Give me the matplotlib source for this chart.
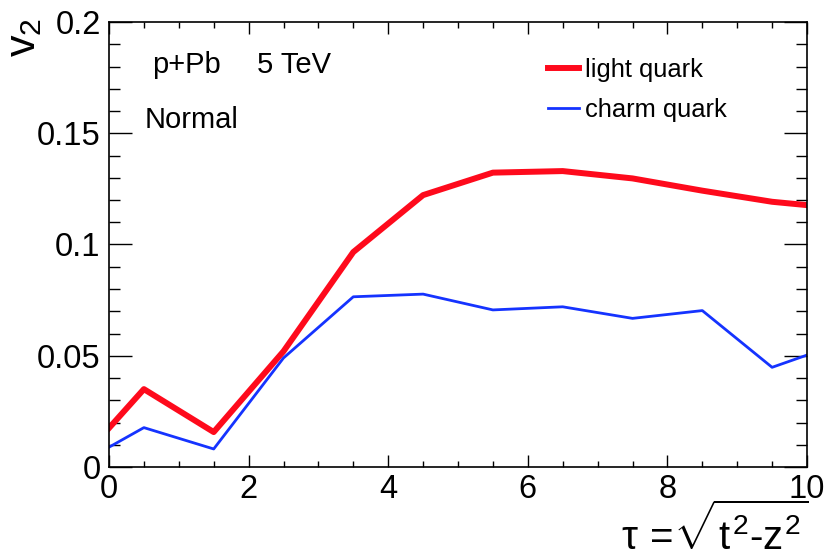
import matplotlib
matplotlib.use("Agg")
import matplotlib.pyplot as plt
from matplotlib.ticker import MultipleLocator, FuncFormatter

plt.rcParams["font.family"] = ["Liberation Sans", "DejaVu Sans"]
plt.rcParams["mathtext.fontset"] = "custom"
plt.rcParams["mathtext.rm"] = "Liberation Sans"
plt.rcParams["mathtext.it"] = "Liberation Sans"

# Données.
tau = [0, 0.5, 1.5, 2.5, 3.5, 4.5, 5.5, 6.5, 7.5, 8.5, 9.5, 10]
v2_light = [0.0175, 0.035, 0.0157, 0.052, 0.0966, 0.1222, 0.1323, 0.133, 0.1297, 0.1242, 0.1192, 0.1177]
v2_charm = [0.0089, 0.0177, 0.0081, 0.049, 0.0765, 0.0777, 0.0706, 0.072, 0.0668, 0.0703, 0.0448, 0.0503]

W, H = 827, 560
fig = plt.figure(figsize=(W / 100, H / 100), dpi=100)
ax = fig.add_axes([109 / W, 1 - 467 / H, (807 - 109) / W, (467 - 22) / H])

ax.plot(tau, v2_light, color="#fe0a1c", linewidth=4.3, label="light quark")
ax.plot(tau, v2_charm, color="#1533ff", linewidth=2.0, label="charm quark")

ax.set_xlim(0, 10)
ax.set_ylim(0, 0.2)

ax.xaxis.set_major_locator(MultipleLocator(2))
ax.xaxis.set_minor_locator(MultipleLocator(0.5))
ax.yaxis.set_major_locator(MultipleLocator(0.05))
ax.yaxis.set_minor_locator(MultipleLocator(0.01))
ax.yaxis.set_major_formatter(FuncFormatter(lambda v, p: f"{v:g}"))
ax.xaxis.set_major_formatter(FuncFormatter(lambda v, p: f"{v:g}"))

ax.tick_params(which="both", direction="in", top=True, right=True, width=1.0, labelsize=23.5)
ax.tick_params(axis="x", which="major", length=8.6, pad=5)
ax.tick_params(axis="x", which="minor", length=4.3)
ax.tick_params(axis="y", which="major", length=16.5, pad=6)
ax.tick_params(axis="y", which="minor", length=8)
for spine in ax.spines.values():
    spine.set_linewidth(1.2)

# Textes dans le cadre.
ax.text(0.616, 0.1771, "p+Pb", fontsize=21, va="baseline")
ax.text(2.12, 0.1771, "5 TeV", fontsize=21, va="baseline")
ax.text(0.516, 0.1524, "Normal", fontsize=21, va="baseline")

ax.legend(
    loc="upper left",
    bbox_to_anchor=(548 / W, 1 - 58 / H),
    bbox_transform=fig.transFigure,
    frameon=False,
    fontsize=18.4,
    handlelength=1.2,
    handletextpad=0.25,
    borderpad=0,
    borderaxespad=0,
    labelspacing=0.62,
)

# Titres des axes.
fig.text(4 / W, 1 - 18 / H, r"$\mathregular{v_2}$", fontsize=31, rotation=90, ha="left", va="top")
fig.text(808 / W, 1 - 550 / H, r"$\tau\,=\!\sqrt{t^2\text{-}z^2}$", fontsize=29, ha="right", va="baseline")

fig.savefig("out.png", dpi=100)
